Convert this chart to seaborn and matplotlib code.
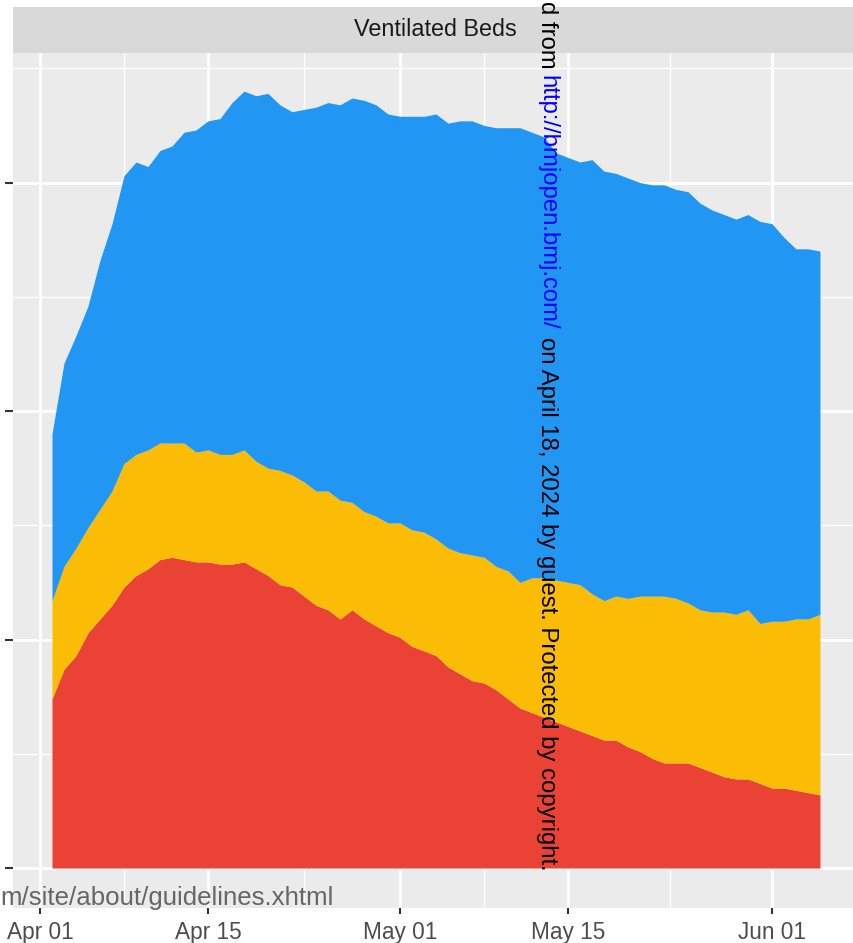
import pandas as pd
import seaborn as sns
import matplotlib
matplotlib.use("Agg")
import matplotlib.pyplot as plt
import matplotlib.dates as mdates

# daily values, Apr 02 .. Jun 05, stacked bottom -> top
dates = pd.date_range("2020-04-02", periods=65, freq="D")
red_layer = [74, 87, 93, 103, 109, 115, 123, 128, 131, 135, 136, 135, 134, 134, 133, 133,
             134, 131, 128, 124, 123, 119, 115, 113, 109, 113, 109, 106, 103, 101, 97, 95,
             93, 88, 85, 82, 81, 78, 74, 70, 68, 66, 64, 62, 60, 58, 56, 56, 53, 51, 48,
             46, 46, 46, 44, 42, 40, 39, 39, 37, 35, 35, 34, 33, 32]
yellow_layer = [43, 45, 47, 46, 48, 50, 54, 53, 52, 51, 50, 51, 48, 49, 48, 48, 49, 47, 47,
                50, 49, 50, 50, 52, 52, 47, 47, 48, 48, 50, 51, 52, 51, 52, 53, 55, 55, 54,
                56, 55, 59, 61, 62, 63, 64, 62, 61, 63, 65, 68, 71, 73, 72, 70, 69, 70, 72,
                72, 74, 70, 73, 73, 75, 76, 79]
blue_layer = [73, 89, 93, 97, 109, 117, 126, 128, 124, 128, 130, 136, 141, 144, 147, 154,
              157, 160, 164, 160, 159, 163, 168, 170, 173, 177, 180, 180, 179, 178, 181, 182,
              186, 186, 189, 190, 189, 192, 194, 199, 195, 193, 187, 186, 185, 190, 188, 185,
              184, 181, 180, 180, 179, 180, 178, 176, 174, 173, 173, 176, 174, 168, 162, 162,
              159]
layer_colors = ["#EA4335", "#FBBC05", "#2196F3"]

major_dates = pd.to_datetime(["2020-04-01", "2020-04-15", "2020-05-01", "2020-05-15", "2020-06-01"])
minor_dates = pd.to_datetime(["2020-04-08 00:00", "2020-04-23 00:00", "2020-05-08 00:00",
                              "2020-05-23 12:00"])
y_major = [0, 100, 200, 300]
y_minor = [50, 150, 250, 350]

sns.set_theme(style="darkgrid")
plt.rcParams["font.family"] = ["Liberation Sans", "DejaVu Sans"]

W, H = 854, 943
fig = plt.figure(figsize=(W / 100, H / 100), dpi=100)


def box(x0, y0, x1, y1):
    return [x0 / W, 1 - y1 / H, (x1 - x0) / W, (y1 - y0) / H]


ax = fig.add_axes(box(13, 53, 858, 908))
ax.set_facecolor("#EBEBEB")
ax.stackplot(dates, red_layer, yellow_layer, blue_layer, colors=layer_colors, linewidth=0)

start = pd.Timestamp("2020-04-01")
ax.set_xlim(start - pd.Timedelta(days=2.25), start + pd.Timedelta(days=68.17))
ax.set_ylim(-17.5, 356.7)

ax.set_xticks(major_dates)
ax.set_xticks(minor_dates, minor=True)
ax.xaxis.set_major_formatter(mdates.DateFormatter("%b %d"))
ax.set_yticks(y_major)
ax.set_yticks(y_minor, minor=True)
ax.grid(True, which="major", color="white", linewidth=2.0)
ax.grid(True, which="minor", color="white", linewidth=1.0)
ax.set_axisbelow(True)
for s in ax.spines.values():
    s.set_visible(False)
ax.tick_params(which="major", axis="x", length=4.3, width=1.5, color="#333333",
               labelsize=16.3, labelcolor="#4D4D4D", pad=5, bottom=True)
ax.tick_params(which="major", axis="y", length=5.6, width=1.5, color="#333333",
               labelleft=False, left=True)
ax.tick_params(which="minor", length=0)
ax.set_xlabel("")
ax.set_ylabel("")

# facet strip
strip = fig.add_axes(box(13, 7, 858, 53))
strip.set_facecolor("#D9D9D9")
strip.set_xticks([])
strip.set_yticks([])
for s in strip.spines.values():
    s.set_visible(False)
strip.text(0.5, 0.5, "Ventilated Beds", ha="center", va="center", fontsize=16.8,
           color="#1A1A1A", transform=strip.transAxes)

# overlaid page text
wx = 547 / W
fig.text(wx, 1 - 1 / H, "d from", rotation=-90, ha="center", va="top", fontsize=17.2, color="black")
fig.text(wx, 1 - 75 / H, "http://bmjopen.bmj.com/", rotation=-90, ha="center", va="top",
         fontsize=17.2, color="#0000FF")
fig.text(wx, 1 - 337 / H, "on April 18, 2024 by guest. Protected by copyright.", rotation=-90,
         ha="center", va="top", fontsize=17.2, color="black")
fig.text(0, 1 - 905 / H, "m/site/about/guidelines.xhtml", ha="left", va="baseline",
         fontsize=18.6, color="#666666")

fig.savefig("out.png", dpi=100)
